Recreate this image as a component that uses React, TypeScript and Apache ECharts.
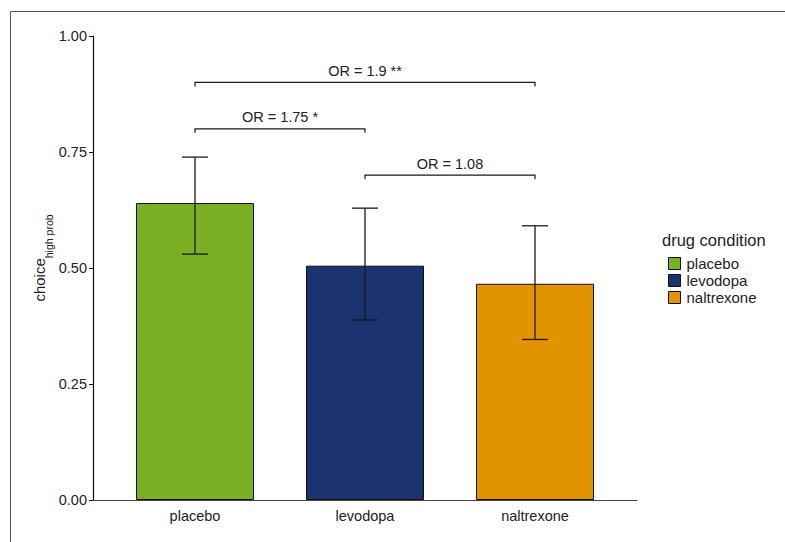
import React, { useEffect, useRef } from "react";
import * as echarts from "echarts";

const categories = ["placebo", "levodopa", "naltrexone"];
const means = [0.64, 0.505, 0.466];
const ciLow = [0.53, 0.388, 0.346];
const ciHigh = [0.739, 0.629, 0.591];
const barColors = ["#7BAF24", "#1B3370", "#E29300"];
const bracketFrom = [1, 1, 2];
const bracketTo = [3, 2, 3];
const bracketY = [0.9, 0.8, 0.7];
const bracketLabels = ["OR = 1.9 **", "OR = 1.75 *", "OR = 1.08"];
const yTicks = [0, 0.25, 0.5, 0.75, 1];

const FONT = "Liberation Sans, Arial, Helvetica, sans-serif";

export default function App() {
  const ref = useRef<HTMLDivElement>(null);
  useEffect(() => {
    if (!ref.current) return;
    const chart = echarts.init(ref.current, null, { renderer: "svg" });
    const barSeries = categories.map((c, i) => ({
      type: "bar",
      name: c,
      barWidth: 118,
      barGap: "-100%",
      data: [[i + 1, means[i]]],
      itemStyle: { color: barColors[i], borderColor: "#111", borderWidth: 1 },
      emphasis: { disabled: true },
      z: 2,
    }));
    const option: any = {
      animation: false,
      textStyle: { fontFamily: FONT },
      grid: { left: 93, right: 148, top: 36, bottom: 42 },
      xAxis: {
        type: "value",
        min: 0.4,
        max: 3.6,
        splitLine: { show: false },
        axisTick: { show: false },
        axisLine: { show: true, onZero: false, lineStyle: { color: "#444", width: 1.2 } },
        axisLabel: {
          customValues: [1, 2, 3],
          formatter: (v: number) => categories[Math.round(v) - 1] ?? "",
          color: "#222",
          fontSize: 14.5,
          margin: 8,
          fontFamily: FONT,
        },
      },
      yAxis: {
        type: "value",
        min: 0,
        max: 1,
        interval: 0.25,
        splitLine: { show: false },
        axisLine: { show: true, lineStyle: { color: "#111", width: 1.2 } },
        axisTick: { show: true, length: 4, lineStyle: { color: "#111" } },
        axisLabel: {
          formatter: (v: number) => (yTicks.includes(v) ? v.toFixed(2) : ""),
          color: "#222",
          fontSize: 14.5,
          margin: 6,
          fontFamily: FONT,
        },
      },
      legend: {
        orient: "vertical",
        left: 663,
        top: 251,
        itemWidth: 12,
        itemHeight: 12,
        itemGap: 2,
        icon: "rect",
        itemStyle: { borderColor: "#111", borderWidth: 1 },
        textStyle: { fontSize: 15, color: "#222", fontFamily: FONT, padding: [0, 0, 0, 1] },
        data: categories,
      },
      graphic: [
        {
          type: "rect",
          shape: { x: 10.5, y: 11.5, width: 900, height: 700 },
          style: { fill: "none", stroke: "#555", lineWidth: 1 },
          silent: true,
        },
        {
          type: "text",
          x: 662,
          y: 231,
          style: { text: "drug condition", fontSize: 16.5, fill: "#222", fontFamily: FONT },
        },
        {
          type: "text",
          x: 43,
          y: 258,
          rotation: Math.PI / 2,
          style: {
            text: "{a|choice}{b|high prob}",
            align: "center",
            verticalAlign: "middle",
            rich: {
              a: { fontSize: 15, fill: "#222", fontFamily: FONT, lineHeight: 22, verticalAlign: "top" },
              b: { fontSize: 10.5, fill: "#222", fontFamily: FONT, lineHeight: 22, verticalAlign: "bottom", padding: [9, 0, 0, 0] },
            },
          },
        },
      ],
      series: [
        ...barSeries,
        {
          type: "custom",
          name: "errorbars",
          data: categories.map((_, i) => [i + 1, ciLow[i], ciHigh[i]]),
          z: 5,
          renderItem: (params: any, api: any) => {
            const x = api.value(0);
            const lo = api.coord([x, api.value(1)]);
            const hi = api.coord([x, api.value(2)]);
            const half = 13;
            const st = { stroke: "#1a1a1a", lineWidth: 1.3 };
            return {
              type: "group",
              children: [
                { type: "line", shape: { x1: lo[0], y1: lo[1], x2: hi[0], y2: hi[1] }, style: st },
                { type: "line", shape: { x1: lo[0] - half, y1: lo[1], x2: lo[0] + half, y2: lo[1] }, style: st },
                { type: "line", shape: { x1: hi[0] - half, y1: hi[1], x2: hi[0] + half, y2: hi[1] }, style: st },
              ],
            };
          },
        },
        {
          type: "custom",
          name: "brackets",
          data: bracketLabels.map((l, i) => [bracketFrom[i], bracketTo[i], bracketY[i], i]),
          z: 5,
          renderItem: (params: any, api: any) => {
            const a = api.coord([api.value(0), api.value(2)]);
            const b = api.coord([api.value(1), api.value(2)]);
            const idx = api.value(3);
            const st = { stroke: "#1a1a1a", lineWidth: 1.2, fill: "none" };
            return {
              type: "group",
              children: [
                {
                  type: "polyline",
                  shape: { points: [[a[0], a[1] + 4], [a[0], a[1]], [b[0], b[1]], [b[0], b[1] + 4]] },
                  style: st,
                },
                {
                  type: "text",
                  x: (a[0] + b[0]) / 2,
                  y: a[1] - 4,
                  style: {
                    text: bracketLabels[idx],
                    align: "center",
                    verticalAlign: "bottom",
                    fontSize: 14.5,
                    fill: "#222",
                    fontFamily: FONT,
                  },
                },
              ],
            };
          },
        },
      ],
    };
    chart.setOption(option);
    return () => chart.dispose();
  }, []);
  return <div ref={ref} style={{ width: 785, height: 542, position: "absolute", left: 0, top: 0 }} />;
}
